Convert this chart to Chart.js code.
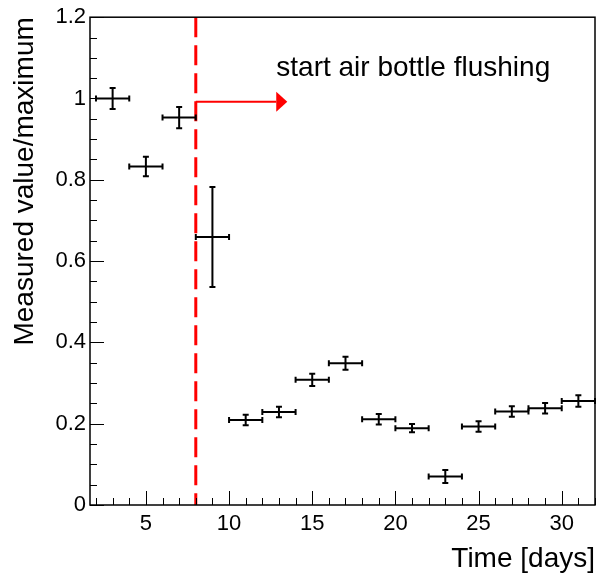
<!DOCTYPE html>
<html>
<head>
<meta charset="utf-8">
<script src="https://cdn.jsdelivr.net/npm/chart.js@4.4.0/dist/chart.umd.min.js"></script>
<style>
  html, body { margin: 0; padding: 0; background: #fff; }
</style>
</head>
<body>
<canvas id="plot" width="603" height="577"></canvas>
<script>
// data: bins 2 days wide
const binCenters = [3, 5, 7, 9, 11, 13, 15, 17, 19, 21, 23, 25, 27, 29, 31];
const binHalfWidth = [1, 1, 1, 1, 1, 1, 1, 1, 1, 1, 1, 1, 1, 1, 1];
const measured = [1.000, 0.833, 0.953, 0.659, 0.209, 0.229, 0.308, 0.349, 0.211, 0.189, 0.070, 0.193, 0.230, 0.238, 0.256];
const measuredErr = [0.026, 0.024, 0.026, 0.123, 0.013, 0.013, 0.015, 0.016, 0.013, 0.010, 0.016, 0.013, 0.013, 0.013, 0.014];

const xTicks = [5, 10, 15, 20, 25, 30];
const yTicks = [0, 0.2, 0.4, 0.6, 0.8, 1, 1.2];
const yTickLabels = ["0", "0.2", "0.4", "0.6", "0.8", "1", "1.2"];

const flushDay = 8;
const arrowTipDay = 13.5;
const arrowLevel = 0.992;
const noteText = "start air bottle flushing";
const noteX = 12.84;
const noteY = 1.056;

const FONT = '"Liberation Sans", Arial, Helvetica, sans-serif';

// error bars, axis ticks, frame and the arrow note
const rootStylePlugin = {
  id: "rootStyle",
  afterDatasetsDraw(chart) {
    const { ctx, scales: { x, y } } = chart;
    ctx.save();
    ctx.strokeStyle = "#000";
    ctx.lineWidth = 2;
    const cap = 3;
    binCenters.forEach((c, i) => {
      const px = x.getPixelForValue(c);
      const py = y.getPixelForValue(measured[i]);
      const xl = x.getPixelForValue(c - binHalfWidth[i]);
      const xr = x.getPixelForValue(c + binHalfWidth[i]);
      const yt = y.getPixelForValue(measured[i] + measuredErr[i]);
      const yb = y.getPixelForValue(measured[i] - measuredErr[i]);
      ctx.beginPath();
      ctx.moveTo(xl, py); ctx.lineTo(xr, py);
      ctx.moveTo(px, yt); ctx.lineTo(px, yb);
      // little end caps
      ctx.moveTo(xl, py - cap); ctx.lineTo(xl, py + cap);
      ctx.moveTo(xr, py - cap); ctx.lineTo(xr, py + cap);
      ctx.moveTo(px - cap, yt); ctx.lineTo(px + cap, yt);
      ctx.moveTo(px - cap, yb); ctx.lineTo(px + cap, yb);
      ctx.stroke();
    });

    // arrow
    const ax0 = x.getPixelForValue(flushDay);
    const ax1 = x.getPixelForValue(arrowTipDay);
    const ay = y.getPixelForValue(arrowLevel);
    const headLen = 11, headHalf = 10;
    ctx.strokeStyle = "#ff0000";
    ctx.fillStyle = "#ff0000";
    ctx.lineWidth = 2;
    ctx.beginPath();
    ctx.moveTo(ax0, ay); ctx.lineTo(ax1 - headLen, ay);
    ctx.stroke();
    ctx.beginPath();
    ctx.moveTo(ax1, ay);
    ctx.lineTo(ax1 - headLen, ay - headHalf);
    ctx.lineTo(ax1 - headLen, ay + headHalf);
    ctx.closePath();
    ctx.fill();

    ctx.fillStyle = "#000";
    ctx.font = "28px " + FONT;
    ctx.textAlign = "left";
    ctx.textBaseline = "alphabetic";
    ctx.fillText(noteText, x.getPixelForValue(noteX), y.getPixelForValue(noteY));
    ctx.restore();
  },
  afterDraw(chart) {
    const { ctx, chartArea: a, scales: { x, y } } = chart;
    ctx.save();
    ctx.strokeStyle = "#000";
    ctx.lineWidth = 1;
    ctx.beginPath();
    for (let d = Math.ceil(x.min); d <= x.max; d++) {
      const px = Math.round(x.getPixelForValue(d)) + 0.5;
      const len = d % 5 === 0 ? 14 : 7;
      ctx.moveTo(px, a.bottom); ctx.lineTo(px, a.bottom - len);
    }
    for (let k = 0; k <= 24; k++) {
      const py = Math.round(y.getPixelForValue(k * 0.05)) + 0.5;
      const len = k % 4 === 0 ? 14 : 7;
      ctx.moveTo(a.left, py); ctx.lineTo(a.left + len, py);
    }
    ctx.stroke();
    ctx.lineWidth = 1.5;
    ctx.strokeRect(a.left, a.top, a.right - a.left, a.bottom - a.top);
    ctx.restore();
  }
};

new Chart(document.getElementById("plot"), {
  type: "scatter",
  data: {
    datasets: [
      {
        data: binCenters.map((c, i) => ({ x: c, y: measured[i] })),
        pointRadius: 0,
        showLine: false
      },
      {
        type: "line",
        data: [{ x: flushDay, y: 1.2 }, { x: flushDay, y: 0 }],
        borderColor: "#ff0000",
        borderWidth: 3,
        borderDash: [20, 8],
        pointRadius: 0,
        fill: false
      }
    ]
  },
  options: {
    responsive: false,
    animation: false,
    layout: { padding: { top: 15, right: 8, left: 0, bottom: 0 } },
    plugins: { legend: { display: false }, tooltip: { enabled: false } },
    scales: {
      x: {
        type: "linear",
        min: 1.64,
        max: 32,
        grid: { display: false, drawTicks: false },
        border: { display: false },
        afterBuildTicks: s => { s.ticks = xTicks.map(v => ({ value: v })); },
        afterFit: s => { s.height = 72; },
        ticks: { color: "#000", font: { family: FONT, size: 22 }, padding: 6, maxRotation: 0 },
        title: {
          display: true, text: "Time [days]", align: "end", color: "#000",
          font: { family: FONT, size: 28 }, padding: { top: 0, bottom: 1 }
        }
      },
      y: {
        min: 0,
        max: 1.2,
        grid: { display: false, drawTicks: false },
        border: { display: false },
        afterBuildTicks: s => { s.ticks = yTicks.map(v => ({ value: v })); },
        afterFit: s => { s.width = 90; },
        ticks: {
          color: "#000", font: { family: FONT, size: 22 }, padding: 4,
          callback: v => yTickLabels[yTicks.indexOf(v)]
        },
        title: {
          display: true, text: "Measured value/maximum", align: "end", color: "#000",
          font: { family: FONT, size: 28 }, padding: { top: 8, bottom: 0 }
        }
      }
    }
  },
  plugins: [rootStylePlugin]
});
</script>
</body>
</html>
